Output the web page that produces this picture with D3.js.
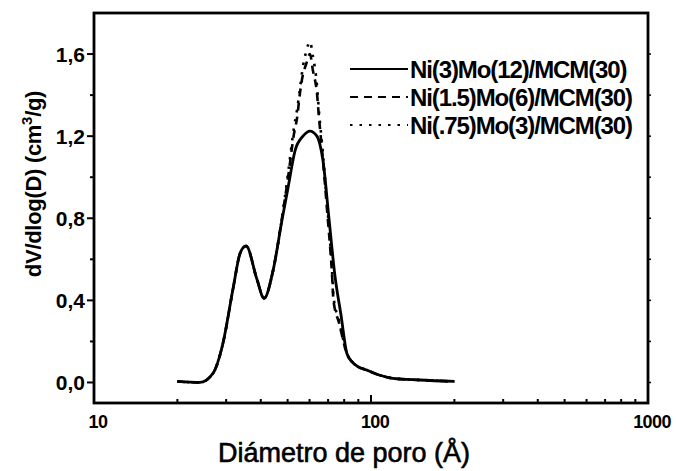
<!DOCTYPE html>
<html>
<head>
<meta charset="utf-8">
<script src="https://cdn.jsdelivr.net/npm/d3@7"></script>
<style>
  html, body { margin: 0; padding: 0; background: #fff; }
  svg { display: block; }
  text { font-family: "Liberation Sans", Arial, Helvetica, sans-serif; fill: #000; }
</style>
</head>
<body>
<svg id="chart" width="676" height="471"></svg>
<script>
// ---- data (pore diameter in Å, dV/dlog(D) in cm3/g) ----
const seriesNames = ["Ni(3)Mo(12)/MCM(30)", "Ni(1.5)Mo(6)/MCM(30)", "Ni(.75)Mo(3)/MCM(30)"];

const diamSolid = [20, 24.1, 26.9, 29.2, 31.8, 33.7, 35.4, 38.8, 41.1, 44.3, 47.7, 50.2, 53.2, 56.8, 60.2, 63.8, 65.4, 67.1, 70.5, 74.1, 77.9, 81.9, 85.5, 89.0, 96.7, 107.8, 120, 150, 200];
const valSolid  = [0.005, 0.0, 0.045, 0.19, 0.46, 0.63, 0.665, 0.50, 0.41, 0.545, 0.79, 0.95, 1.13, 1.20, 1.225, 1.20, 1.16, 1.08, 0.80, 0.52, 0.33, 0.14, 0.10, 0.08, 0.06, 0.035, 0.02, 0.012, 0.005];

const diamDashed = [20, 24.1, 26.9, 29.2, 31.8, 33.7, 35.4, 38.8, 41.1, 44.3, 47.7, 50.2, 52.7, 54.1, 55.4, 56.8, 58.3, 60.2, 61.7, 63.8, 64.9, 66.6, 69.4, 72.3, 73.2, 76.7, 81.9, 85.5, 89.0, 96.7, 107.8, 120, 150, 200];
const valDashed  = [0.005, 0.0, 0.045, 0.19, 0.46, 0.63, 0.665, 0.50, 0.41, 0.545, 0.80, 1.00, 1.21, 1.29, 1.41, 1.50, 1.55, 1.60, 1.52, 1.41, 1.29, 1.13, 0.84, 0.53, 0.40, 0.29, 0.14, 0.10, 0.08, 0.06, 0.035, 0.02, 0.012, 0.005];

const diamDotted = [20, 24.1, 26.9, 29.2, 31.8, 33.7, 35.4, 38.8, 41.1, 44.3, 47.7, 50.2, 52.7, 54.1, 55.4, 56.8, 58.3, 60.2, 61.7, 63.8, 64.9, 66.6, 69.4, 72.3, 73.2, 76.7, 81.9, 85.5, 89.0, 96.7, 107.8, 120, 150, 200];
const valDotted  = [0.005, 0.0, 0.045, 0.19, 0.46, 0.63, 0.665, 0.50, 0.41, 0.545, 0.80, 1.02, 1.24, 1.33, 1.43, 1.54, 1.61, 1.66, 1.59, 1.45, 1.32, 1.16, 0.87, 0.55, 0.42, 0.30, 0.14, 0.10, 0.08, 0.06, 0.035, 0.02, 0.012, 0.005];

const yMajorTicks = [0.0, 0.4, 0.8, 1.2, 1.6];
const yMinorTicks = [0.2, 0.6, 1.0, 1.4];
const xMajorTicks = [10, 100, 1000];
const xMinorTicks = [20, 30, 40, 50, 60, 70, 80, 90, 200, 300, 400, 500, 600, 700, 800, 900];

const xTitle = "Diámetro de poro (Å)";

// ---- layout ----
const L = 94, R = 648, T = 13, B = 403;
const svg = d3.select("#chart");

const x = d3.scaleLog().domain([10, 1000]).range([L, R]);
const y = d3.scaleLinear().domain([-0.1, 1.8]).range([B, T]);

const fmtY = v => d3.format(".1f")(v).replace(".", ",");

// frame
svg.append("rect")
  .attr("x", L).attr("y", T).attr("width", R - L).attr("height", B - T)
  .attr("fill", "none").attr("stroke", "#000").attr("stroke-width", 2.8);

// y axis (ticks outward)
const yAxis = svg.append("g").attr("transform", `translate(${L},0)`);
yAxis.selectAll("line.maj").data(yMajorTicks).join("line")
  .attr("x1", -7).attr("x2", 0).attr("y1", d => y(d)).attr("y2", d => y(d))
  .attr("stroke", "#000").attr("stroke-width", 2);
yAxis.selectAll("line.min").data(yMinorTicks).join("line")
  .attr("x1", -4).attr("x2", 0).attr("y1", d => y(d)).attr("y2", d => y(d))
  .attr("stroke", "#000").attr("stroke-width", 2);
yAxis.selectAll("text").data(yMajorTicks).join("text")
  .attr("x", -9).attr("y", d => y(d) + 7.5)
  .attr("text-anchor", "end")
  .style("font-size", "21px").style("font-weight", "bold")
  .text(fmtY);

// right side small ticks
svg.append("g").selectAll("line").data(yMajorTicks.concat(yMinorTicks)).join("line")
  .attr("x1", R).attr("x2", R + 3).attr("y1", d => y(d)).attr("y2", d => y(d))
  .attr("stroke", "#000").attr("stroke-width", 1.5);

// x axis (ticks inward)
const xAxis = svg.append("g").attr("transform", `translate(0,${B})`);
xAxis.selectAll("line.maj").data(xMajorTicks).join("line")
  .attr("x1", d => x(d)).attr("x2", d => x(d)).attr("y1", 0).attr("y2", -8)
  .attr("stroke", "#000").attr("stroke-width", 2);
xAxis.selectAll("line.min").data(xMinorTicks).join("line")
  .attr("x1", d => x(d)).attr("x2", d => x(d)).attr("y1", 0).attr("y2", -4)
  .attr("stroke", "#000").attr("stroke-width", 2);
xAxis.selectAll("text").data(xMajorTicks).join("text")
  .attr("x", d => x(d) + 4).attr("y", 25)
  .attr("text-anchor", "middle")
  .style("font-size", "18px").style("font-weight", "bold").style("letter-spacing", "-0.6px")
  .text(d => String(d));

// axis titles
svg.append("text")
  .attr("x", 344).attr("y", 462)
  .attr("text-anchor", "middle")
  .style("font-size", "27px")
  .attr("stroke", "#000").attr("stroke-width", 0.6)
  .text(xTitle);

const yt = svg.append("text")
  .attr("transform", "translate(41,184) rotate(-90)")
  .attr("text-anchor", "middle")
  .style("font-size", "22px").style("font-weight", "bold").style("letter-spacing", "-0.3px");
yt.append("tspan").text("dV/dlog(D) (cm");
yt.append("tspan").attr("dy", -9).style("font-size", "15px").text("3");
yt.append("tspan").attr("dy", 9).text("/g)");

// curves
const line = d3.line()
  .x(d => x(d[0])).y(d => y(d[1]))
  .curve(d3.curveMonotoneX);

const series = [
  { pts: d3.zip(diamSolid, valSolid), dash: null, w: 2.8 },
  { pts: d3.zip(diamDashed, valDashed), dash: "8,6", w: 2.6 },
  { pts: d3.zip(diamDotted, valDotted), dash: "2.5,7", w: 2.6 }
];

svg.append("g").selectAll("path").data(series).join("path")
  .attr("d", d => line(d.pts))
  .attr("fill", "none").attr("stroke", "#000")
  .attr("stroke-width", d => d.w)
  .attr("stroke-dasharray", d => d.dash);

// legend
const legendY = [69, 97, 125];
const lg = svg.append("g");
series.forEach((s, i) => {
  lg.append("line")
    .attr("x1", 350).attr("x2", 408).attr("y1", legendY[i]).attr("y2", legendY[i])
    .attr("stroke", "#000").attr("stroke-width", 2)
    .attr("stroke-dasharray", s.dash);
  lg.append("text")
    .attr("x", 410).attr("y", legendY[i] + 8.5)
    .style("font-size", "24px").style("font-weight", "bold").style("letter-spacing", "-1.1px")
    .text(seriesNames[i]);
});
</script>
</body>
</html>
